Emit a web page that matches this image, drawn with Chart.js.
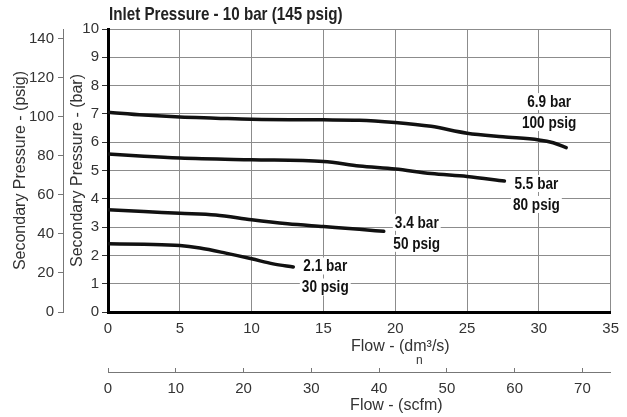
<!DOCTYPE html>
<html><head><meta charset="utf-8">
<script src="https://cdn.jsdelivr.net/npm/chart.js@4.4.1/dist/chart.umd.min.js"></script>
<style>html,body{margin:0;padding:0;background:#fff}canvas{display:block}</style>
</head><body>
<canvas id="c" width="627" height="417"></canvas>
<script>
// ---- data ----
const chartTitle = "Inlet Pressure - 10 bar (145 psig)";
const flow69 = [0, 2.5, 5, 7.5, 10, 15, 17.5, 20, 22.5, 25, 27.5, 30, 31, 31.9];
const bar69  = [7.06, 6.96, 6.89, 6.85, 6.81, 6.79, 6.78, 6.70, 6.56, 6.32, 6.19, 6.08, 5.98, 5.81];
const flow55 = [0, 2.5, 5, 10, 15, 17.5, 20, 22.5, 25, 27.6];
const bar55  = [5.58, 5.50, 5.44, 5.38, 5.32, 5.16, 5.05, 4.89, 4.79, 4.63];
const flow34 = [0, 2.5, 5, 7.5, 10, 12.5, 15, 17.5, 19.2];
const bar34  = [3.61, 3.55, 3.49, 3.43, 3.26, 3.12, 3.02, 2.92, 2.85];
const flow21 = [0, 2.5, 5, 6.4, 8.2, 10, 11.5, 12.9];
const bar21  = [2.41, 2.39, 2.35, 2.26, 2.08, 1.88, 1.70, 1.59];
const curveLabels = [["6.9 bar", "100 psig"], ["5.5 bar", "80 psig"], ["3.4 bar", "50 psig"], ["2.1 bar", "30 psig"]];
const flowMax = 35, barMax = 10;
const psigPerBar = 14.5;      // psig axis = bar axis * 14.5
const scfmPerDm3 = 2.1189;    // scfm axis = dm3/s axis * 2.1189
const xTitle = "Flow - (dm\u00B3/s)";
const xTitleSub = "n";
const x2Title = "Flow - (scfm)";
const yBarTitle = "Secondary Pressure - (bar)";
const yPsigTitle = "Secondary Pressure - (psig)";

// ---- chart ----
const sans = "'Liberation Sans', Arial, Helvetica, sans-serif";
const gridCol = '#8c8c8c';
const textCol = '#333';

function pts(xs, ys) { return xs.map((x, i) => ({x: x, y: ys[i]})); }
const series = [[flow69, bar69], [flow55, bar55], [flow34, bar34], [flow21, bar21]];

function drawCondensed(ctx, txt, x, y, align, k) {
  ctx.save();
  ctx.translate(x, y);
  ctx.scale(k, 1);
  ctx.textAlign = align;
  ctx.fillText(txt, 0, 0);
  ctx.restore();
}

const titlePlugin = {
  id: 'condTitle',
  afterDraw(chart, args, opts) {
    const ctx = chart.ctx;
    ctx.save();
    ctx.font = opts.font;
    ctx.fillStyle = opts.color;
    ctx.textBaseline = 'middle';
    drawCondensed(ctx, opts.text, chart.chartArea.left + opts.dx, opts.y, 'left', opts.squeeze);
    ctx.restore();
  }
};

// bottom axis titles (they sit right of the axis centre in the reference)
const axisTitlePlugin = {
  id: 'axisTitles',
  afterDraw(chart, args, opts) {
    const ctx = chart.ctx, ca = chart.chartArea;
    const sx = chart.scales.x, sx2 = chart.scales.x2;
    const cx = (ca.left + ca.right) / 2 + opts.dx;
    ctx.save();
    ctx.fillStyle = opts.color;
    ctx.textAlign = 'center';
    ctx.textBaseline = 'middle';
    ctx.font = '16px ' + sans;
    ctx.fillText(xTitle, cx, sx.top + opts.y1);
    ctx.fillText(x2Title, cx + opts.dx2, sx2.bottom - opts.y2);
    ctx.font = '12px ' + sans;
    ctx.fillText(xTitleSub, cx + opts.subDx, sx.top + opts.ySub);
    ctx.restore();
  }
};

const labelPlugin = {
  id: 'curveLabels',
  afterDatasetsDraw(chart, args, opts) {
    const ctx = chart.ctx;
    ctx.save();
    ctx.font = opts.font;
    ctx.textBaseline = 'middle';
    chart.data.datasets.forEach((ds, i) => {
      const meta = chart.getDatasetMeta(i);
      const pt = meta.data[meta.data.length - 1];
      const off = opts.offsets[i];
      ds.curveLabel.forEach((txt, j) => {
        const x = pt.x + off.dx, y = pt.y + off.dy + j * opts.lineGap;
        const w = ctx.measureText(txt).width * opts.squeeze;
        ctx.fillStyle = '#fff';
        ctx.fillRect(x - w / 2 - 2, y - 8.5, w + 4, 17);
        ctx.fillStyle = opts.color;
        drawCondensed(ctx, txt, x, y + 1, 'center', opts.squeeze);
      });
    });
    ctx.restore();
  }
};

new Chart(document.getElementById('c'), {
  type: 'line',
  data: {
    datasets: series.map((s, i) => ({
      data: pts(s[0], s[1]),
      curveLabel: curveLabels[i],
      xAxisID: 'x', yAxisID: 'y',
      borderColor: '#111', borderWidth: 3.5,
      pointRadius: 0, fill: false,
      cubicInterpolationMode: 'monotone',
      borderCapStyle: 'round'
    }))
  },
  options: {
    responsive: false, animation: false, devicePixelRatio: 1,
    layout: {padding: {left: 0, right: 15, top: 29, bottom: 0}},
    plugins: {
      legend: {display: false}, tooltip: {enabled: false}, title: {display: false},
      condTitle: {text: chartTitle, font: "bold 18.5px " + sans, color: '#222', dx: 1, y: 14.5, squeeze: 0.82},
      axisTitles: {color: textCol, dx: 41, y1: 34.5, ySub: 49, subDx: 19, dx2: -4, y2: 11},
      curveLabels: {
        font: "bold 16px " + sans, color: '#111', lineGap: 21, squeeze: 0.85,
        offsets: [{dx: -17, dy: -46}, {dx: 32, dy: 2.5}, {dx: 33, dy: -9}, {dx: 32, dy: -1}]
      }
    },
    scales: {
      x: {
        type: 'linear', position: 'bottom', weight: 0, min: 0, max: flowMax,
        afterFit: s => { s.height = 60; },
        ticks: {stepSize: 5, color: textCol, padding: 8, font: {family: sans, size: 15}, maxRotation: 0},
        grid: {color: gridCol, lineWidth: 1, drawTicks: false},
        border: {display: true, color: '#000', width: 3},
        title: {display: false}
      },
      x2: {
        type: 'linear', position: 'bottom', weight: 1, min: 0, max: flowMax * scfmPerDm3,
        afterFit: s => { s.height = 45; },
        ticks: {stepSize: 10, includeBounds: false, color: textCol, padding: 12, font: {family: sans, size: 15}, maxRotation: 0},
        grid: {drawOnChartArea: false, color: '#777', tickLength: -4},
        border: {display: true, color: '#777', width: 1},
        title: {display: false}
      },
      y: {
        type: 'linear', position: 'left', weight: 0, min: 0, max: barMax,
        afterFit: s => { s.width = 45; },
        ticks: {stepSize: 1, color: textCol, padding: 3, font: {family: sans, size: 15}},
        grid: {color: gridCol, lineWidth: 1, tickLength: 6, tickColor: '#333'},
        border: {display: true, color: '#000', width: 3},
        title: {display: true, text: yBarTitle, color: textCol, font: {family: sans, size: 16}, padding: {top: 5.4, bottom: 0}}
      },
      y2: {
        type: 'linear', position: 'left', weight: 1, min: 0, max: barMax * psigPerBar,
        afterFit: s => { s.width = 63; },
        ticks: {stepSize: 20, includeBounds: false, color: textCol, padding: 4, font: {family: sans, size: 15}},
        grid: {drawOnChartArea: false, color: '#777', tickLength: 5},
        border: {display: true, color: '#777', width: 1},
        title: {display: true, text: yPsigTitle, color: textCol, font: {family: sans, size: 16}, padding: {top: 11, bottom: 0}}
      }
    }
  },
  plugins: [labelPlugin, titlePlugin, axisTitlePlugin]
});
</script>
</body></html>
